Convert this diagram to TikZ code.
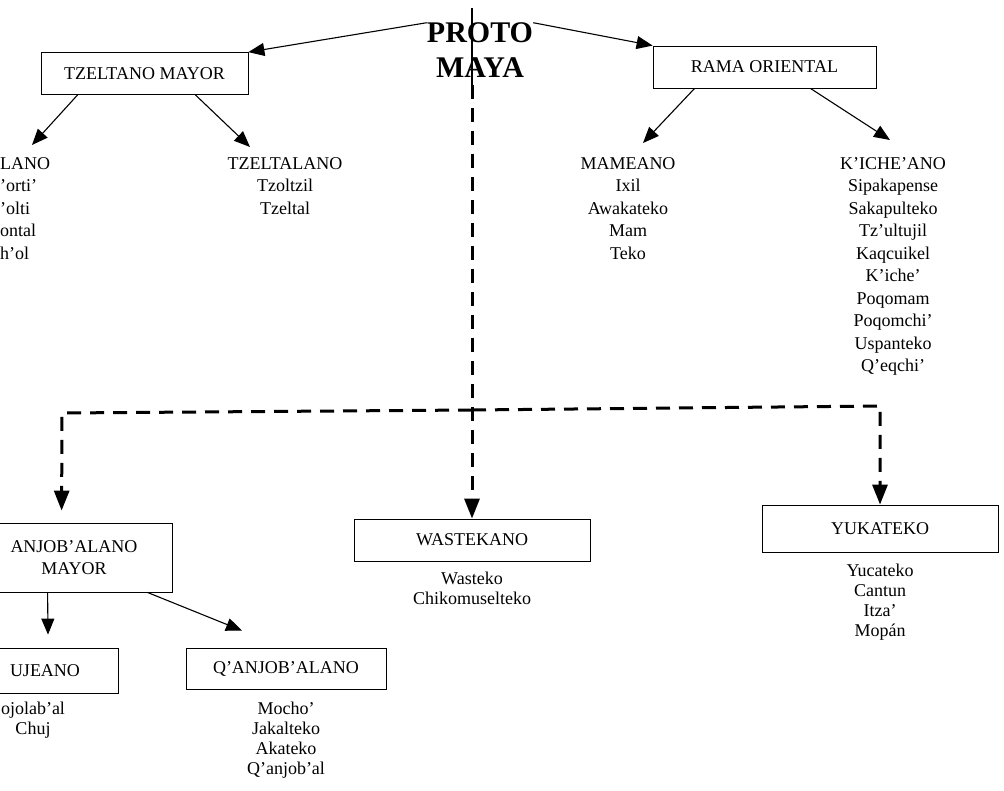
\documentclass[tikz,border=0pt]{standalone}
\usepackage{fontspec}
\setmainfont{Liberation Serif}
\usetikzlibrary{arrows.meta}
\begin{document}
\begin{tikzpicture}[
    x=1pt, y=-1pt,
    every node/.style={font=\fontsize{18}{22.5}\selectfont, align=center, inner sep=0pt},
    box/.style={draw, line width=0.8pt, minimum height=42pt},
    root/.style={font=\fontsize{30}{36}\selectfont\bfseries},
    lower/.style={font=\fontsize{18}{20}\selectfont},
    branch/.style={line width=1.1pt, -{Triangle[length=16pt,width=13pt]}},
    dashbranch/.style={line width=3pt, dash pattern=on 14pt off 9pt, -{Triangle[length=20pt,width=15pt]}},
  ]
  \useasboundingbox (0,0) rectangle (1004,791);
  \clip (0,0) rectangle (1004,791);
  \node[root] (proto) at (480,33) {PROTO};
  \node[root] (maya) at (480,68) {MAYA};
  \node[box, minimum width=207pt] (tzm) at (144.5,73.5) {TZELTANO MAYOR};
  \node[box, minimum width=223pt] (rama) at (764.5,67) {RAMA ORIENTAL};
  \node[anchor=north west, align=left] (cholano) at (0,157) {LANO\\'orti'\\'olti\\ontal\\h'ol};
  \node[anchor=north] (tzeltalano) at (285,157) {TZELTALANO\\Tzoltzil\\Tzeltal};
  \node[anchor=north] (mameano) at (628,157) {MAMEANO\\Ixil\\Awakateko\\Mam\\Teko};
  \node[anchor=north] (kicheano) at (893,157) {K'ICHE'ANO\\Sipakapense\\Sakapulteko\\Tz'ultujil\\Kaqcuikel\\K'iche'\\Poqomam\\Poqomchi'\\Uspanteko\\Q'eqchi'};
  \node[box, minimum width=196pt, minimum height=69pt] (qmayor) at (74,557.5) {ANJOB'ALANO\\MAYOR};
  \node[box, minimum width=236pt] (wastekano) at (472,540) {WASTEKANO};
  \node[box, minimum width=236pt, minimum height=47pt] (yukateko) at (880,528.5) {YUKATEKO};
  \node[box, minimum width=146pt, minimum height=45pt] (chujeano) at (45,670.5) {UJEANO};
  \node[box, minimum width=200pt, minimum height=41pt] (qanjobalano) at (286,668.5) {Q'ANJOB'ALANO};
  \node[lower, anchor=north] (wasteko) at (472,572) {Wasteko\\Chikomuselteko};
  \node[lower, anchor=north] (yucateko) at (880,564) {Yucateko\\Cantun\\Itza'\\Mopán};
  \node[lower, anchor=north] (tojolabal) at (33,702) {ojolab'al\\Chuj};
  \node[lower, anchor=north] (qanjobal) at (286,702) {Mocho'\\Jakalteko\\Akateko\\Q'anjob'al};
  \coordinate (top) at (472,8);
  \coordinate (stem) at (472,85);
  \coordinate (fork) at (472,410);
  \coordinate (lcorner) at (62,413);
  \coordinate (rcorner) at (880,406);
  % proto maya
  \draw[branch] (proto.north west) -- (tzm.north east);
  \draw[branch] (proto.north east) -- (rama.north west);
  \draw[line width=1.1pt] (top) -- (stem);
  \draw[dashbranch] (stem) -- (wastekano.north);
  \draw[dashbranch] (fork) -- (lcorner) -- ([xshift=86pt,yshift=12pt]qmayor.north west);
  \draw[dashbranch] (fork) -- (rcorner) -- (yukateko.north);
  % subgroups
  \draw[branch] ([xshift=37pt]tzm.south west) -- ([xshift=32pt,yshift=12pt]cholano.north west);
  \draw[branch] ([xshift=-53pt]tzm.south east) -- ([xshift=-35pt,yshift=10pt]tzeltalano.north);
  \draw[branch] ([xshift=42pt]rama.south west) -- ([xshift=15pt,yshift=14pt]mameano.north);
  \draw[branch] ([xshift=-66pt]rama.south east) -- ([xshift=-3pt,yshift=17pt]kicheano.north);
  \draw[branch] ([xshift=72pt]qmayor.south west) -- ([xshift=3pt,yshift=13pt]chujeano.north);
  \draw[branch] ([xshift=-25pt]qmayor.south east) -- ([xshift=-44pt,yshift=17pt]qanjobalano.north);
\end{tikzpicture}
\end{document}
